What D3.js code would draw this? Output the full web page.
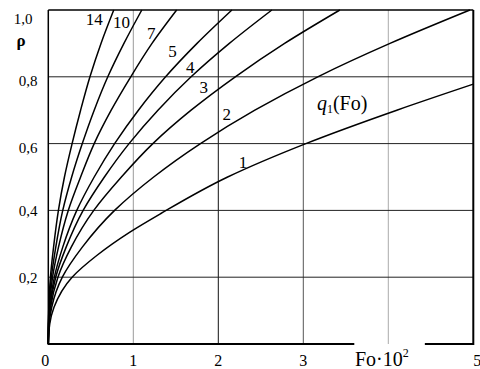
<!DOCTYPE html>
<html>
<head>
<meta charset="utf-8">
<script src="https://cdn.jsdelivr.net/npm/d3@7"></script>
<style>
  html, body { margin: 0; padding: 0; background: #fff; }
  svg { display: block; }
</style>
</head>
<body>
<div id="chart"></div>
<script>
// ---------- data ----------
const xTickValues = [0, 1, 2, 3, 5];
const xTickLabels = ["0", "1", "2", "3", "5"];
const yTickValues = [0.2, 0.4, 0.6, 0.8, 1.0];
const yTickLabels = ["0,2", "0,4", "0,6", "0,8", "1,0"];
const gridFo = [1, 2, 3, 4];
const gridRho = [0.2, 0.4, 0.6, 0.8];

// each curve: Fo values where it reaches the rho levels
const rhoLevels = [0, 0.06, 0.11, 0.2, 0.29, 0.4, 0.5, 0.6, 0.7, 0.8, 0.9, 1.0];
const curveNames = ["1", "2", "3", "4", "5", "7", "10", "14"];
const curve1Rho = [0, 0.06, 0.11, 0.2, 0.265, 0.335, 0.39, 0.5, 0.6, 0.7, 0.778];
const curve1Fo  = [0, 0.017, 0.067, 0.28, 0.57, 0.96, 1.32, 2.11, 3.03, 4.1, 5.0];
const curve2Fo  = [0, 0.01, 0.04, 0.165, 0.40, 0.78, 1.24, 1.79, 2.43, 3.17, 4.02, 4.96];
const curve3Fo  = [0, 0.007, 0.027, 0.113, 0.27, 0.535, 0.86, 1.23, 1.68, 2.2, 2.78, 3.43];
const curve4Fo  = [0, 0.005, 0.021, 0.087, 0.21, 0.41, 0.66, 0.95, 1.29, 1.68, 2.13, 2.63];
const curve5Fo  = [0, 0.004, 0.017, 0.071, 0.17, 0.335, 0.54, 0.78, 1.06, 1.38, 1.75, 2.16];
const curve7Fo  = [0, 0.003, 0.012, 0.05, 0.12, 0.235, 0.38, 0.54, 0.74, 0.97, 1.22, 1.51];
const curve10Fo = [0, 0.002, 0.009, 0.036, 0.088, 0.17, 0.275, 0.4, 0.54, 0.7, 0.89, 1.1];
const curve14Fo = [0, 0.0015, 0.006, 0.025, 0.062, 0.119, 0.19, 0.28, 0.38, 0.49, 0.62, 0.77];

// curve label anchors in data units (Fo, rho)
const labelFo  = [2.29, 2.10, 1.83, 1.67, 1.46, 1.21, 0.86, 0.54];
const labelRho = [0.527, 0.671, 0.751, 0.811, 0.859, 0.913, 0.946, 0.955];

// ---------- layout ----------
const W = 480, H = 369;
const FONT = "'Liberation Serif', 'Times New Roman', 'DejaVu Serif', serif";
const x = d3.scaleLinear().domain([0, 5]).range([48.3, 473.3]);
const y = d3.scaleLinear().domain([0, 1]).range([344, 10]);

const svg = d3.select("#chart").append("svg")
  .attr("width", W).attr("height", H)
  .attr("font-family", FONT).style("font-family", FONT);

// grid
const vGridColor = {1: "#9a9a9a", 2: "#111", 3: "#555", 4: "#aaa"};
svg.append("g").selectAll("line").data(gridFo).join("line")
  .attr("x1", d => x(d)).attr("x2", d => x(d))
  .attr("y1", y(1)).attr("y2", y(0))
  .attr("stroke", d => vGridColor[d]).attr("stroke-width", 1);
svg.append("g").selectAll("line").data(gridRho).join("line")
  .attr("x1", x(0)).attr("x2", x(5))
  .attr("y1", d => y(d)).attr("y2", d => y(d))
  .attr("stroke", "#222").attr("stroke-width", 1);

// curves
const series = [
  curve1Fo.map((f, i) => [f, curve1Rho[i]]),
  curve2Fo.map((f, i) => [f, rhoLevels[i]]),
  curve3Fo.map((f, i) => [f, rhoLevels[i]]),
  curve4Fo.map((f, i) => [f, rhoLevels[i]]),
  curve5Fo.map((f, i) => [f, rhoLevels[i]]),
  curve7Fo.map((f, i) => [f, rhoLevels[i]]),
  curve10Fo.map((f, i) => [f, rhoLevels[i]]),
  curve14Fo.map((f, i) => [f, rhoLevels[i]])
];
const line = d3.line().x(d => x(d[0])).y(d => y(d[1])).curve(d3.curveMonotoneY);
svg.append("g").selectAll("path").data(series).join("path")
  .attr("d", line).attr("fill", "none")
  .attr("stroke", "#000").attr("stroke-width", 1.5);

// frame
const frame = svg.append("g").attr("stroke", "#000").attr("fill", "none");
frame.append("line").attr("x1", x(0)).attr("x2", x(0)).attr("y1", y(1)).attr("y2", y(0) + 1).attr("stroke-width", 1.5);
frame.append("line").attr("x1", x(0)).attr("x2", x(5)).attr("y1", y(1)).attr("y2", y(1)).attr("stroke-width", 1.5);
frame.append("line").attr("x1", x(5)).attr("x2", x(5)).attr("y1", y(1)).attr("y2", y(0) + 1).attr("stroke-width", 2);
frame.append("line").attr("x1", x(0)).attr("x2", x(3.6)).attr("y1", y(0)).attr("y2", y(0)).attr("stroke-width", 2);
frame.append("line").attr("x1", x(4.43)).attr("x2", x(5)).attr("y1", y(0)).attr("y2", y(0)).attr("stroke-width", 2);

// x tick labels
svg.append("g").selectAll("text").data(xTickValues).join("text")
  .attr("x", (d, i) => x(d) + (i === 0 ? -3 : (d === 5 ? 4 : 0)))
  .attr("y", 366)
  .attr("text-anchor", "middle")
  .attr("font-size", 16)
  .text((d, i) => xTickLabels[i]);

// y tick labels
svg.append("g").selectAll("text").data(yTickValues).join("text")
  .attr("x", d => d === 1 ? 23 : 28)
  .attr("y", d => y(d) + (d === 1 ? 14 : (d >= 0.6 ? 9 : 6)))
  .attr("text-anchor", "middle")
  .attr("font-size", 15)
  .text((d, i) => yTickLabels[i]);

// axis titles
svg.append("text").attr("x", 21).attr("y", 46).attr("text-anchor", "middle")
  .attr("font-size", 17).attr("font-weight", "bold").text("ρ");
const xt = svg.append("text").attr("x", 355).attr("y", 366).attr("font-size", 20);
xt.append("tspan").text("Fo·10");
xt.append("tspan").attr("font-size", 12).attr("dy", -9).text("2");

// curve labels
svg.append("g").selectAll("text").data(curveNames).join("text")
  .attr("x", (d, i) => x(labelFo[i]))
  .attr("y", (d, i) => y(labelRho[i]))
  .attr("text-anchor", "middle")
  .attr("font-size", 17)
  .text(d => d);

// q1(Fo) annotation
const q = svg.append("text").attr("x", x(3.16)).attr("y", y(0.701)).attr("font-size", 20);
q.append("tspan").attr("font-style", "italic").text("q");
q.append("tspan").attr("font-size", 12).attr("dy", 3).text("1");
q.append("tspan").attr("dy", -3).text("(Fo)");
</script>
</body>
</html>
